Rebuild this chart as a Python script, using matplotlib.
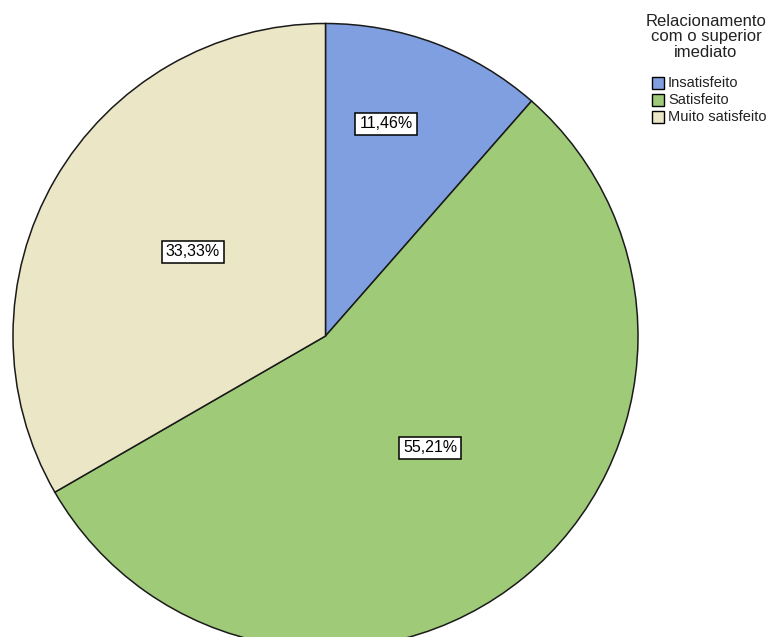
import matplotlib
matplotlib.use("Agg")
import matplotlib.pyplot as plt
from matplotlib.patches import Rectangle

plt.rcParams['font.family'] = ['Liberation Sans', 'DejaVu Sans']

# Data
categories = ["Insatisfeito", "Satisfeito", "Muito satisfeito"]
percentages = [11.46, 55.21, 33.33]
slice_colors = ["#7f9fe0", "#9fcb78", "#ebe6c6"]
legend_title = "Relacionamento\ncom o superior\nimediato"

W, H = 773, 637
fig = plt.figure(figsize=(W / 100, H / 100), dpi=100)
ax = fig.add_axes([0, 0, 1, 1])

cx, cy, r = 325.5, H - 336, 312.5
wedges, _ = ax.pie(
    percentages,
    colors=slice_colors,
    startangle=90,
    counterclock=False,
    center=(cx, cy),
    radius=r,
    wedgeprops=dict(edgecolor="#1a1a1a", linewidth=1.1),
    frame=True,
)
ax.set_xlim(0, W)
ax.set_ylim(0, H)
ax.set_aspect("equal")
ax.axis("off")

# Value labels in white boxes (one per slice, same order as percentages)
label_pos = [(386, H - 124), (430, H - 448), (193, H - 252)]
for (x, y), p in zip(label_pos, percentages):
    ax.text(x, y, f"{p:.2f}".replace(".", ",") + "%", ha="center", va="center",
            fontsize=11.5, color="black",
            bbox=dict(boxstyle="square,pad=0.25", facecolor="white",
                      edgecolor="black", linewidth=1.1))

# Legend
ax.text(706, H - 37, legend_title, ha="center", va="center",
        fontsize=12, color="#222222", linespacing=1.05)
y0 = H - 83
for i, (name, col) in enumerate(zip(categories, slice_colors)):
    y = y0 - i * 17
    ax.add_patch(Rectangle((652, y - 6), 12, 12, facecolor=col,
                           edgecolor="black", linewidth=1.0))
    ax.text(668, y, name, ha="left", va="center", fontsize=10.5,
            color="#222222")

fig.savefig("out.png", dpi=100)
